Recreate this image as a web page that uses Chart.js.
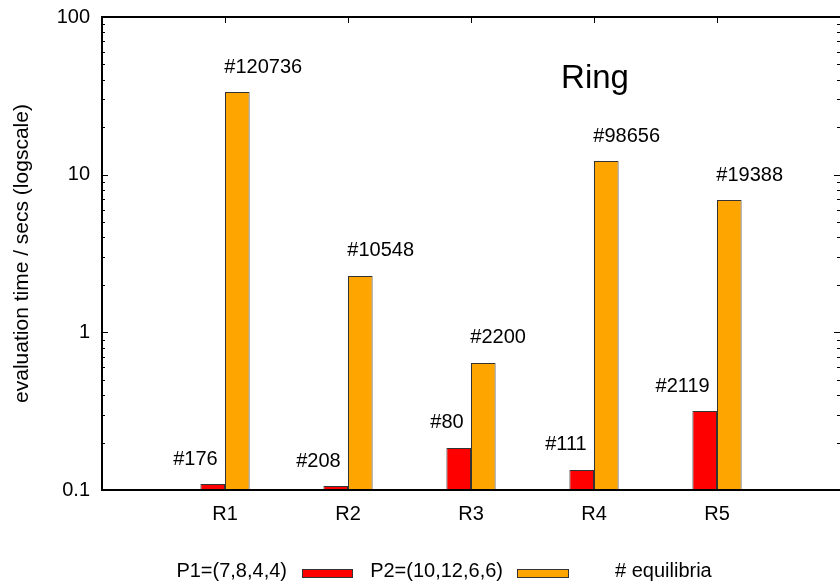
<!DOCTYPE html>
<html>
<head>
<meta charset="utf-8">
<script src="https://cdn.jsdelivr.net/npm/chart.js@4.4.1/dist/chart.umd.min.js"></script>
<style>
  html, body { margin: 0; padding: 0; background: #fff; overflow: hidden; }
  #wrap { width: 840px; height: 581px; }
</style>
</head>
<body>
<div id="wrap"><canvas id="c" width="840" height="581"></canvas></div>
<script>
// ---- data ----
const categories = ['R1', 'R2', 'R3', 'R4', 'R5'];
const p1Times = [0.109, 0.106, 0.185, 0.134, 0.317];
const p2Times = [33.4, 2.28, 0.64, 12.2, 6.9];
const p1Equilibria = ['#176', '#208', '#80', '#111', '#2119'];
const p2Equilibria = ['#120736', '#10548', '#2200', '#98656', '#19388'];
const seriesNames = ['P1=(7,8,4,4)', 'P2=(10,12,6,6)', '# equilibria'];
const yTickValues = [0.1, 1, 10, 100];
const yTickLabels = ['0.1', '1', '10', '100'];
const yTitle = 'evaluation time / secs (logscale)';
const plotTitle = 'Ring';

const FONT = '"Liberation Sans", Arial, Helvetica, sans-serif';
const RED = '#ff0000', ORANGE = '#ffa500';

// category axis with empty slots at both ends (range 0..6)
const labels = [''].concat(categories, ['']);
const pad = arr => [null].concat(arr, [null]);

function line(ctx, x1, y1, x2, y2) { ctx.beginPath(); ctx.moveTo(x1, y1); ctx.lineTo(x2, y2); ctx.stroke(); }

const ticksPlugin = {
  id: 'ticksPlugin',
  beforeDatasetsDraw(chart) {
    const { ctx, chartArea: a, scales: { x, y } } = chart;
    ctx.save();
    ctx.strokeStyle = '#000';
    ctx.lineWidth = 1;
    for (let e = -1; e <= 1; e++) {
      for (let m = 1; m <= 9; m++) {
        const v = m * Math.pow(10, e);
        const py = Math.round(y.getPixelForValue(v)) + 0.5;
        const len = m === 1 ? 6 : 3;
        line(ctx, a.left, py, a.left + len, py);
        line(ctx, a.right, py, a.right - len, py);
      }
    }
    categories.forEach((c, i) => {
      const px = Math.round(x.getPixelForValue(i + 1)) + 0.5;
      line(ctx, px, a.top, px, a.top + 6);
      line(ctx, px, a.bottom, px, a.bottom - 6);
    });
    ctx.restore();
  },
  afterDatasetsDraw(chart) {
    const { ctx, chartArea: a } = chart;
    ctx.save();
    ctx.strokeStyle = '#000';
    ctx.lineWidth = 2;
    ctx.beginPath();
    ctx.moveTo(a.left, a.top);
    ctx.lineTo(a.right, a.top);
    ctx.moveTo(a.left, a.top - 1);
    ctx.lineTo(a.left, a.bottom + 1);
    ctx.moveTo(a.left - 1, a.bottom);
    ctx.lineTo(a.right, a.bottom);
    ctx.stroke();

    // value labels
    ctx.fillStyle = '#000';
    ctx.font = '20px ' + FONT;
    ctx.textBaseline = 'middle';
    const m0 = chart.getDatasetMeta(0), m1 = chart.getDatasetMeta(1);
    categories.forEach((c, i) => {
      const b0 = m0.data[i + 1], b1 = m1.data[i + 1];
      ctx.textAlign = 'right';
      ctx.fillText(p1Equilibria[i], b0.x + 5, b0.y - 25);
      ctx.textAlign = 'left';
      ctx.fillText(p2Equilibria[i], b1.x - 13, b1.y - 25);
    });

    // plot title inside
    ctx.font = '33px ' + FONT;
    ctx.textAlign = 'center';
    ctx.fillText(plotTitle, 595, 79);

    // legend
    ctx.font = '20px ' + FONT;
    const ly = 571;
    ctx.textAlign = 'right';
    ctx.fillText(seriesNames[0], 287, ly);
    ctx.fillText(seriesNames[1], 503, ly);
    ctx.textAlign = 'left';
    ctx.fillText(seriesNames[2], 615, ly);
    ctx.lineWidth = 1;
    ctx.strokeStyle = '#333';
    ctx.fillStyle = RED;
    ctx.fillRect(302, 569, 50, 8);
    ctx.strokeRect(302.5, 569.5, 50, 8);
    ctx.fillStyle = ORANGE;
    ctx.fillRect(517, 569, 51, 8);
    ctx.strokeRect(517.5, 569.5, 51, 8);
    ctx.restore();
  }
};

new Chart(document.getElementById('c'), {
  type: 'bar',
  data: {
    labels: labels,
    datasets: [
      { label: seriesNames[0], data: pad(p1Times), backgroundColor: RED, borderColor: '#333', borderWidth: 1, borderSkipped: 'bottom' },
      { label: seriesNames[1], data: pad(p2Times), backgroundColor: ORANGE, borderColor: '#333', borderWidth: 1, borderSkipped: 'bottom' }
    ]
  },
  options: {
    responsive: false,
    devicePixelRatio: 1,
    animation: false,
    categoryPercentage: 0.4,
    barPercentage: 1.0,
    layout: { padding: { top: 17, right: 0, bottom: 51, left: 0 } },
    plugins: { legend: { display: false }, tooltip: { enabled: false }, title: { display: false } },
    scales: {
      x: {
        type: 'category',
        offset: false,
        grid: { display: false, drawTicks: false },
        border: { display: false },
        ticks: { color: '#000', font: { family: FONT, size: 20 }, padding: 12, maxRotation: 0, autoSkip: false },
        afterFit: s => { s.height = 40; s.paddingLeft = 0; s.paddingRight = 0; s.paddingTop = 0; s.paddingBottom = 0; }
      },
      y: {
        type: 'logarithmic',
        min: 0.1,
        max: 100,
        grid: { display: false, drawTicks: false },
        border: { display: false },
        ticks: {
          color: '#000',
          font: { family: FONT, size: 20 },
          padding: 12,
          autoSkip: false,
          callback: v => {
            const idx = yTickValues.findIndex(t => Math.abs(t - v) / t < 1e-6);
            return idx >= 0 ? yTickLabels[idx] : '';
          }
        },
        title: { display: true, text: yTitle, color: '#000', font: { family: FONT, size: 21 }, padding: { top: 10, bottom: 0 } },
        afterFit: s => { s.width = 102; s.paddingLeft = 0; s.paddingRight = 0; s.paddingTop = 0; s.paddingBottom = 0; }
      }
    }
  },
  plugins: [ticksPlugin]
});
</script>
</body>
</html>
